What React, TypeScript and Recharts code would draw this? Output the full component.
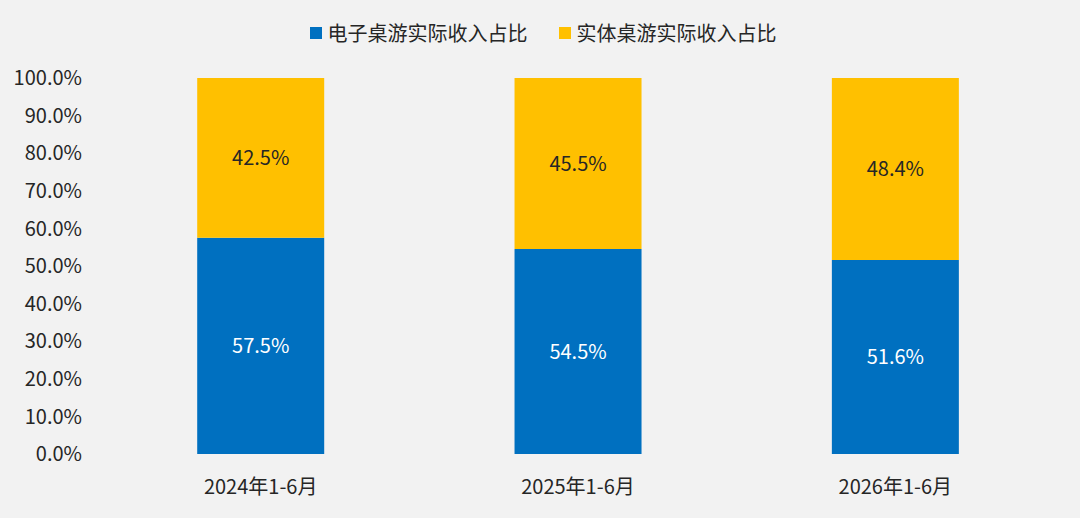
import { BarChart, Bar, XAxis, YAxis, LabelList } from "recharts";

const categories = ["2024年1-6月", "2025年1-6月", "2026年1-6月"];
const digitalShare = [57.5, 54.5, 51.6];
const physicalShare = [42.5, 45.5, 48.4];
const yTicks = [0, 10, 20, 30, 40, 50, 60, 70, 80, 90, 100];

const BLUE = "#0070C0";
const YELLOW = "#FFC000";
const TEXT = "#262626";
const FONT = '"Noto Sans CJK SC", "Noto Sans", sans-serif';

const data = categories.map((name, i) => ({
  name,
  digital: digitalShare[i],
  physical: physicalShare[i],
}));

const pct = (v: number) => `${Number(v).toFixed(1)}%`;

function Legend() {
  const items = [
    { label: "电子桌游实际收入占比", color: BLUE },
    { label: "实体桌游实际收入占比", color: YELLOW },
  ];
  return (
    <div
      style={{
        position: "absolute",
        top: 19,
        left: 0,
        width: 1080,
        display: "flex",
        justifyContent: "center",
        gap: 31,
        fontFamily: FONT,
        fontSize: 20,
        color: TEXT,
        lineHeight: "28px",
        paddingLeft: 6,
        boxSizing: "border-box",
      }}
    >
      {items.map((it) => (
        <div key={it.label} style={{ display: "flex", alignItems: "center" }}>
          <span style={{ width: 12, height: 12, background: it.color, marginRight: 6, display: "inline-block" }} />
          <span>{it.label}</span>
        </div>
      ))}
    </div>
  );
}

export default function App() {
  return (
    <div style={{ position: "absolute", left: 0, top: 0, width: 1080, height: 518, background: "#f2f2f2" }}>
      <Legend />
      <BarChart
        width={1080}
        height={518}
        data={data}
        margin={{ top: 78, right: 26, left: 0, bottom: 0 }}
        barCategoryGap="30%"
        style={{ fontFamily: FONT }}
      >
        <XAxis
          dataKey="name"
          axisLine={false}
          tickLine={false}
          height={64}
          tickMargin={20}
          tick={{ fill: TEXT, fontSize: 20 }}
        />
        <YAxis
          domain={[0, 100]}
          ticks={yTicks}
          tickFormatter={pct}
          axisLine={false}
          tickLine={false}
          width={102}
          tickMargin={14}
          tick={{ fill: TEXT, fontSize: 20 }}
          interval={0}
        />
        <Bar dataKey="digital" stackId="a" fill={BLUE} isAnimationActive={false}>
          <LabelList dataKey="digital" position="center" formatter={pct} fill="#ffffff" fontSize={20} />
        </Bar>
        <Bar dataKey="physical" stackId="a" fill={YELLOW} isAnimationActive={false}>
          <LabelList dataKey="physical" position="center" formatter={pct} fill={TEXT} fontSize={20} />
        </Bar>
      </BarChart>
    </div>
  );
}
